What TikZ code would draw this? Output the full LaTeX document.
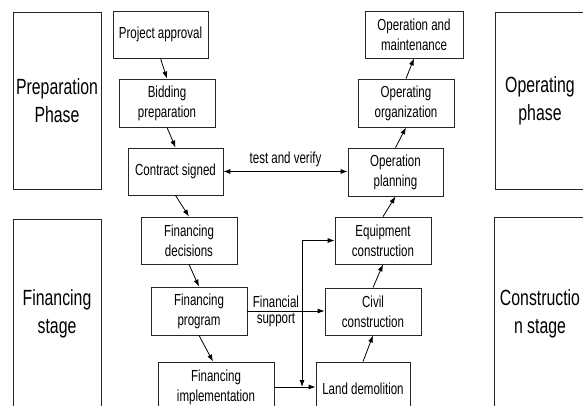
\documentclass[tikz,border=0pt]{standalone}
\usepackage{fontspec}
\setmainfont{Liberation Sans}[FakeStretch=0.72]
\usetikzlibrary{arrows.meta}

\begin{document}
\begin{tikzpicture}[
	x=1pt, y=-1pt,
	>={Latex[length=7pt,width=5pt]},
	every node/.style={inner sep=0pt, align=center},
	box/.style={draw=black!85, line width=0.8pt, minimum width=95pt, minimum height=47pt, font=\fontsize{16}{20}\selectfont},
	phase/.style={draw=black!85, line width=0.8pt, minimum width=88pt, minimum height=177pt, font=\fontsize{22}{28}\selectfont},
	link/.style={->, line width=0.8pt},
	lbl/.style={font=\fontsize{16}{16}\selectfont}
	]
	\useasboundingbox (0,0) rectangle (583,406);
	\clip (0,0) rectangle (583,406);
	% phases
	\node [phase] (prep) at (57,100.5) {Preparation\\Phase};
	\node [phase, minimum width=90pt] (oper) at (540,100.5) {Operating\\phase};
	\node [phase, minimum height=190pt] (finst) at (57,314) {Financing\\stage};
	\node [phase, minimum width=92pt, minimum height=194pt] (const) at (540,314) {Constructio\\n stage};
	% left column
	\node [box] (approval) at (160.5,34.5) {Project approval};
	\node [box, minimum width=96pt, minimum height=48pt] (bidding) at (167,103) {Bidding\\preparation};
	\node [box] (contract) at (175.5,171.5) {Contract signed};
	\node [box, minimum width=96pt] (decisions) at (189,240.5) {Financing\\decisions};
	\node [box, minimum width=96pt, minimum height=48pt] (program) at (199,311) {Financing\\program};
	\node [box, minimum width=116pt, minimum height=50pt] (implem) at (216,387) {Financing\\implementation};
	% right column
	\node [box, minimum width=94pt, minimum height=54pt] (land) at (363,389) {Land demolition};
	\node [box, minimum width=96pt] (civil) at (373,311.5) {Civil\\construction};
	\node [box, minimum width=96pt] (equip) at (383,240.5) {Equipment\\construction};
	\node [box, minimum height=48pt] (planning) at (395.5,172) {Operation\\planning};
	\node [box, minimum width=96pt, minimum height=48pt] (organiz) at (406,103) {Operating\\organization};
	\node [box, minimum width=98pt] (maint) at (414,34.5) {Operation and\\maintenance};
	% flow
	\draw [link] (approval.south) -- (bidding.north);
	\draw [link] (bidding.south) -- (contract.north);
	\draw [link] (contract.south) -- (decisions.north);
	\draw [link] (decisions.south) -- (program.north);
	\draw [link] (program.south) -- ([xshift=-3pt]implem.north);
	\draw [link] (land.north) -- (civil.south);
	\draw [link] (civil.north) -- (equip.south);
	\draw [link] (equip.north) -- (planning.south);
	\draw [link] (planning.north) -- (organiz.south);
	\draw [link] (organiz.north) -- (maint.south);
	\draw [link, <->] (contract.east) -- (contract.east -| planning.west)
		node [lbl, midway, above=4pt] {test and verify};
	\draw [link] (program.east) -- (program.east -| civil.west)
		coordinate [pos=0.708] (j)
		node [lbl, pos=0.37] {Financial\\support};
	\draw [link] (implem.east) -- (implem.east -| land.west);
	\draw [link] (j) |- (equip.west);
	\draw [link] (j) -- (j |- implem.east);
\end{tikzpicture}
\end{document}
